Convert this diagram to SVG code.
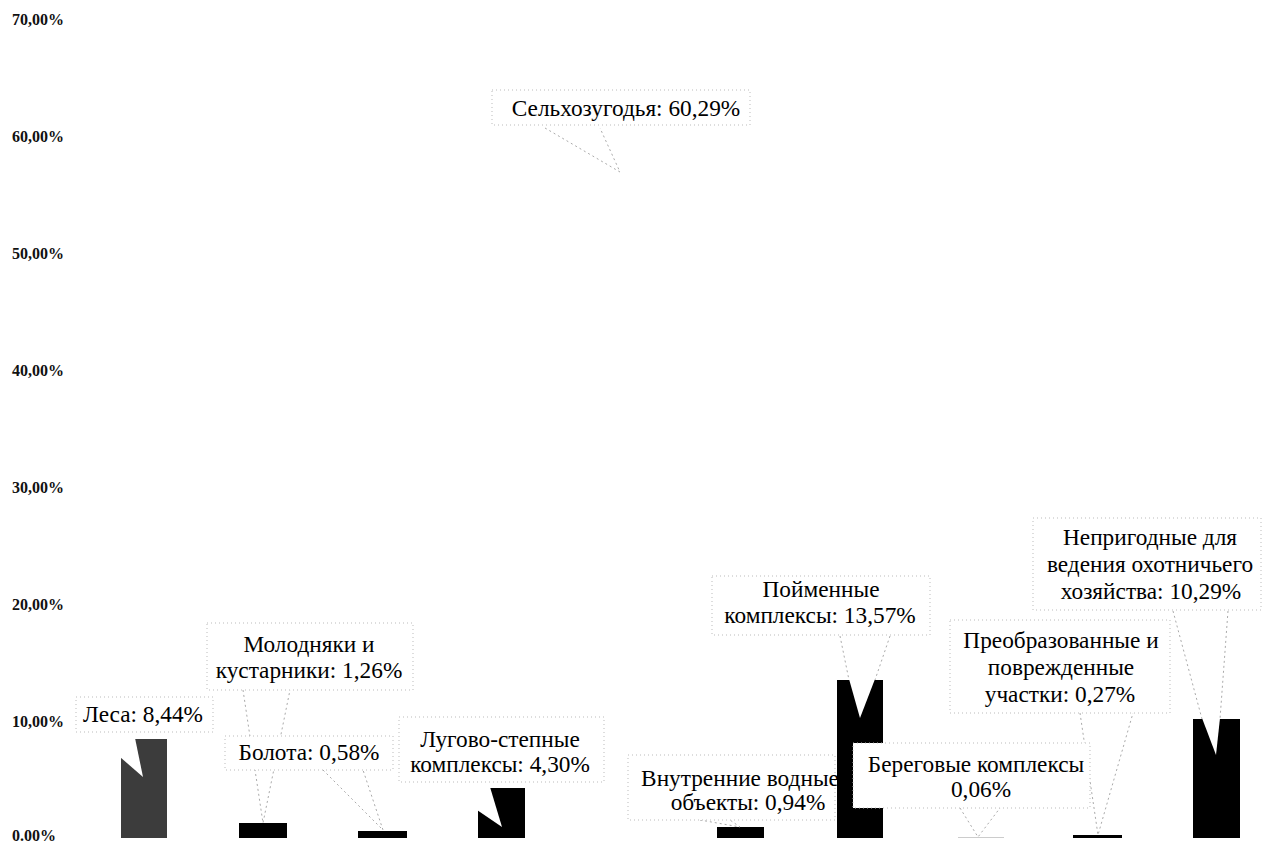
<svg xmlns="http://www.w3.org/2000/svg" width="1262" height="843" viewBox="0 0 1262 843">
<style>
.ax{font-family:"Liberation Serif",serif;font-size:16px;font-weight:bold;fill:#111}
.t{font-family:"Liberation Serif",serif;font-size:23.3px;fill:#000;text-anchor:middle}
.box{fill:#fff;stroke:#bbb;stroke-width:1;stroke-dasharray:1 3}
.bar{fill:#000}
.ptr{fill:none;stroke:#aaa;stroke-width:1;stroke-dasharray:2 3}
.cut{fill:#fff}
</style>
<rect width="1262" height="843" fill="#fff"/>
<g id="axis">
<text class="ax" x="12" y="25">70,00%</text>
<text class="ax" x="12" y="142">60,00%</text>
<text class="ax" x="12" y="259">50,00%</text>
<text class="ax" x="12" y="376">40,00%</text>
<text class="ax" x="12" y="493">30,00%</text>
<text class="ax" x="12" y="610">20,00%</text>
<text class="ax" x="12" y="727">10,00%</text>
<text class="ax" x="12" y="841">0.00%</text>
</g>
<g id="bars">
<rect id="bar-lesa" x="121" y="739" width="46" height="99" fill="#3c3c3c"/>
<rect id="bar-molodnyaki" class="bar" x="239" y="823" width="48" height="15"/>
<rect id="bar-bolota" class="bar" x="358" y="831" width="49" height="7"/>
<rect id="bar-lugovo" class="bar" x="478" y="788" width="47" height="50"/>
<rect id="bar-vnutrennie" class="bar" x="717" y="827" width="47" height="11"/>
<rect id="bar-poymennye" class="bar" x="837" y="680" width="46" height="158"/>
<rect id="bar-beregovye" x="958" y="837" width="46" height="1" fill="#ccc"/>
<rect id="bar-preobrazovannye" class="bar" x="1073" y="835" width="49" height="3"/>
<rect id="bar-neprigodnye" class="bar" x="1193" y="719" width="47" height="119"/>
</g>
<g id="connectors">
<polygon class="cut" points="120,738 135,738 143,777 120,757"/>
<polygon class="cut" points="477,787 490,787 502,827 477,810"/>
<polygon class="cut" points="849,679 875,679 860,718"/>
<polygon class="cut" points="1202,718 1220,718 1216,755"/>
<polyline class="ptr" points="545,128 620,172 600,128"/>
<polyline class="ptr" points="243,690 263,823 290,690"/>
<polyline class="ptr" points="323,770 383,830 363,770"/>
<polyline class="ptr" points="700,820 740,827 730,820"/>
<polyline class="ptr" points="840,636 849,680"/>
<polyline class="ptr" points="890,636 875,680"/>
<polyline class="ptr" points="960,808 978,837 1000,808"/>
<polyline class="ptr" points="1080,713 1098,835 1133,713"/>
<polyline class="ptr" points="1173,611 1202,719"/>
<polyline class="ptr" points="1228,611 1220,719"/>
</g>
<g id="node-selkhoz">
<rect class="box" x="492" y="90" width="258" height="35"/>
<text class="t" x="626" y="116">Сельхозугодья: 60,29%</text>
</g>
<g id="node-lesa">
<rect class="box" x="76" y="697" width="137" height="35"/>
<text class="t" x="143" y="722">Леса: 8,44%</text>
</g>
<g id="node-molodnyaki">
<rect class="box" x="207" y="623" width="206" height="67"/>
<text class="t" x="309" y="652">Молодняки и</text>
<text class="t" x="309" y="678">кустарники: 1,26%</text>
</g>
<g id="node-bolota">
<rect class="box" x="225" y="736" width="168" height="34"/>
<text class="t" x="309" y="760">Болота: 0,58%</text>
</g>
<g id="node-lugovo">
<rect class="box" x="399" y="717" width="205" height="65"/>
<text class="t" x="500" y="747">Лугово-степные</text>
<text class="t" x="500" y="772">комплексы: 4,30%</text>
</g>
<g id="node-vnutrennie">
<rect class="box" x="628" y="755" width="207" height="65"/>
<text class="t" x="740" y="786">Внутренние водные</text>
<text class="t" x="748" y="810">объекты: 0,94%</text>
</g>
<g id="node-poymennye">
<rect class="box" x="712" y="576" width="218" height="59"/>
<text class="t" x="821" y="597">Пойменные</text>
<text class="t" x="820" y="623">комплексы: 13,57%</text>
</g>
<g id="node-beregovye">
<rect class="box" x="853" y="743" width="237" height="65"/>
<text class="t" x="976" y="772">Береговые комплексы</text>
<text class="t" x="981" y="797">0,06%</text>
</g>
<g id="node-preobrazovannye">
<rect class="box" x="950" y="620" width="220" height="93"/>
<text class="t" x="1061" y="648">Преобразованные и</text>
<text class="t" x="1061" y="675">поврежденные</text>
<text class="t" x="1060" y="702">участки: 0,27%</text>
</g>
<g id="node-neprigodnye">
<rect class="box" x="1033" y="518" width="228" height="92"/>
<text class="t" x="1150" y="545">Непригодные для</text>
<text class="t" x="1150" y="572">ведения охотничьего</text>
<text class="t" x="1151" y="599">хозяйства: 10,29%</text>
</g>
</svg>
